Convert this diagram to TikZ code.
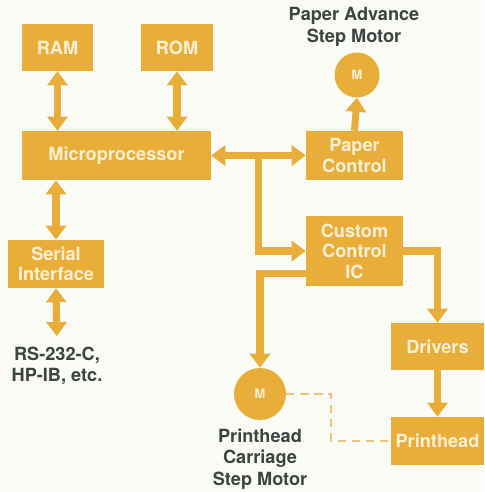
\documentclass[tikz,border=0pt]{standalone}
\usepackage{fontspec}
\setmainfont{TeX Gyre Heros}
\usepackage{tikz}
\usetikzlibrary{arrows.meta,positioning,calc}

\definecolor{hpgold}{HTML}{E9AE3A}
\definecolor{hpcream}{HTML}{FCF0D4}
\definecolor{hpdark}{HTML}{3C4540}
\definecolor{hpdash}{HTML}{EFC774}
\definecolor{hppaper}{HTML}{FBFBF8}

\begin{document}
\begin{tikzpicture}[
    box/.style={fill=hpgold, text=hpcream, inner sep=0pt, align=center, font=\bfseries\fontsize{15.5}{17.5}\selectfont},
    motor/.style={circle, fill=hpgold, text=hpcream, inner sep=0pt, font=\bfseries\fontsize{11}{13}\selectfont},
    lbl/.style={text=hpdark, inner sep=0pt, align=center, font=\bfseries\fontsize{15.5}{18.5}\selectfont},
    arr/.style={-{Triangle[length=12pt,width=17pt]}, line width=6pt, hpgold},
    darr/.style={{Triangle[length=12pt,width=17pt]}-{Triangle[length=12pt,width=17pt]}, line width=6pt, hpgold},
    link/.style={hpdash, line width=1.3pt, dash pattern=on 7pt off 5pt}
]
\fill[hppaper] (0,0) rectangle (14.52,-14.76);
\useasboundingbox (0,0) rectangle (14.52,-14.76);

\node[box, minimum width=2.13cm, minimum height=1.41cm] (ram) at (1.725,-1.425) {RAM};
\node[box, minimum width=2.16cm, minimum height=1.41cm] (rom) at (5.31,-1.425) {ROM};
\node[box, minimum width=5.67cm, minimum height=1.47cm] (cpu) at (3.495,-4.665) {Microprocessor};
\node[box, minimum width=2.91cm, minimum height=1.47cm] (paper) at (10.635,-4.665) {Paper\\Control};
\node[box, minimum width=2.88cm, minimum height=1.44cm] (serial) at (1.68,-7.92) {Serial\\Interface};
\node[box, minimum width=2.91cm, minimum height=2.10cm] (ccic) at (10.635,-7.53) {Custom\\Control\\IC};
\node[box, minimum width=2.79cm, minimum height=1.41cm] (drv) at (13.125,-10.395) {Drivers};
\node[box, minimum width=2.79cm, minimum height=1.44cm] (head) at (13.125,-13.23) {Printhead};
\node[motor, minimum size=1.35cm] (mpaper) at (10.71,-2.25) {M};
\node[motor, minimum size=1.56cm] (mcarr) at (7.8,-11.82) {M};

\node[lbl] (lpaper) at (10.62,-0.80) {Paper Advance\\Step Motor};
\node[lbl] (lio) at (1.71,-10.98) {RS-232-C,\\HP-IB, etc.};
\node[lbl] (lcarr) at (7.8,-13.77) {Printhead\\Carriage\\Step Motor};

\coordinate (bus) at ($(cpu.east)!0.5!(paper.west)$);

\draw[darr] (ram.south) -- (ram.south |- cpu.north);
\draw[darr] (rom.south) -- (rom.south |- cpu.north);
\draw[darr] (serial.north) -- (serial.north |- cpu.south);
\draw[darr, shorten >=9pt] (serial.south) -- (lio.north);
\draw[darr] (cpu.east) -- (paper.west);
\draw[arr] (paper.north) -- (mpaper.south);
\draw[arr] (bus) |- (ccic.west);
\draw[arr] ([yshift=0.39cm]ccic.south west) -| (mcarr.north);
\draw[arr] (ccic.east) -| (drv.north);
\draw[arr] (drv.south) -- (head.north);
\draw[link] (mcarr.east) -- ++(1.35,0) |- (head.west);
\end{tikzpicture}
\end{document}
